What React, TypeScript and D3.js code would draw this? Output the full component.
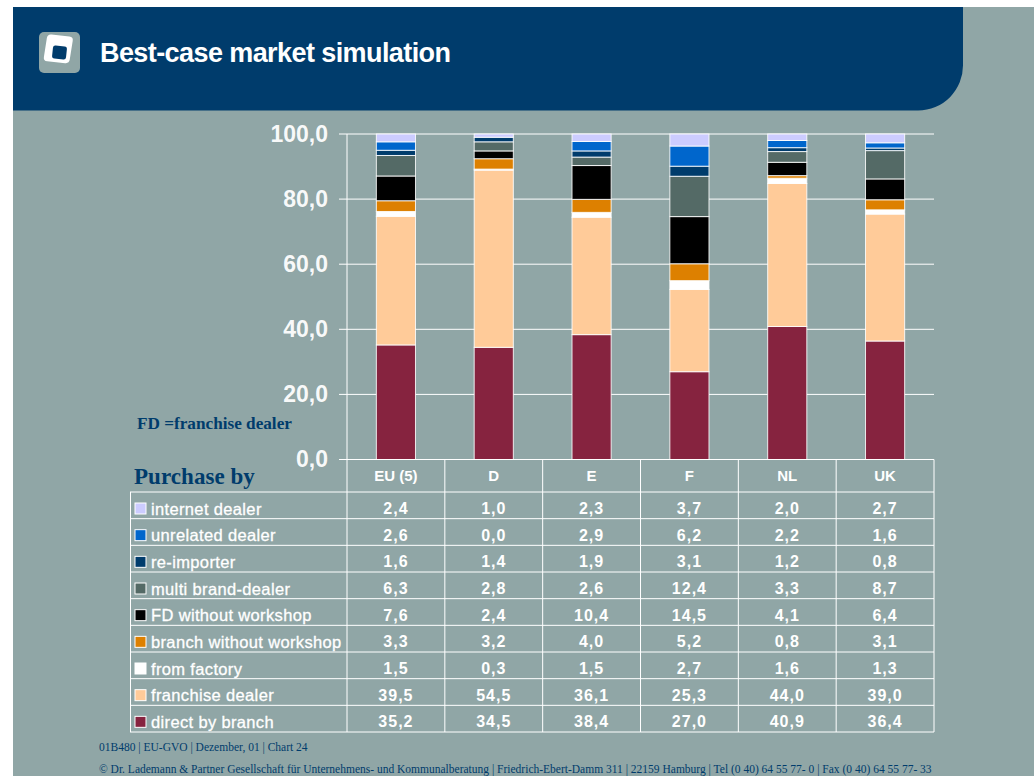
import React from "react";
import * as d3 from "d3";

const categories = ["EU (5)", "D", "E", "F", "NL", "UK"];
const seriesNames = ["direct by branch", "franchise dealer", "from factory", "branch without workshop", "FD without workshop", "multi brand-dealer", "re-importer", "unrelated dealer", "internet dealer"];
const seriesColors = ["#86233F", "#FFCB99", "#FFFFFF", "#DD8000", "#000000", "#546A66", "#003C6C", "#0066CC", "#CCCCFF"];
const directByBranch = [35.2, 34.5, 38.4, 27.0, 40.9, 36.4];
const franchiseDealer = [39.5, 54.5, 36.1, 25.3, 44.0, 39.0];
const fromFactory = [1.5, 0.3, 1.5, 2.7, 1.6, 1.3];
const branchWithoutWorkshop = [3.3, 3.2, 4.0, 5.2, 0.8, 3.1];
const fdWithoutWorkshop = [7.6, 2.4, 10.4, 14.5, 4.1, 6.4];
const multiBrandDealer = [6.3, 2.8, 2.6, 12.4, 3.3, 8.7];
const reImporter = [1.6, 1.4, 1.9, 3.1, 1.2, 0.8];
const unrelatedDealer = [2.6, 0.0, 2.9, 6.2, 2.2, 1.6];
const internetDealer = [2.4, 1.0, 2.3, 3.7, 2.0, 2.7];
const allSeries = [directByBranch, franchiseDealer, fromFactory, branchWithoutWorkshop, fdWithoutWorkshop, multiBrandDealer, reImporter, unrelatedDealer, internetDealer];
const yTicks = [0, 20, 40, 60, 80, 100];

const bg = "#90A6A6";
const navy = "#003C6C";
const sans = "'Liberation Sans', Arial, sans-serif";
const serif = "'Liberation Serif', 'Times New Roman', serif";
const comma = (v: number) => v.toFixed(1).replace(".", ",");

export default function App() {
  const plotL = 347, plotR = 934, plotT = 134, plotB = 459.5;
  const x = d3.scaleBand<string>().domain(categories).range([plotL, plotR]).paddingInner(0.6).paddingOuter(0.3);
  const y = d3.scaleLinear().domain([0, 100]).range([plotB, plotT]);
  const colX = d3.scaleBand<string>().domain(categories).range([plotL, plotR]);
  const rows = d3.range(allSeries.length);
  const rowOrder = [...rows].reverse();
  const rowY = d3.scaleLinear().domain([0, 9]).range([492, 732]);

  const table = categories.map((c, i) => {
    const o: Record<string, number | string> = { c };
    seriesNames.forEach((n, s) => { o[n] = allSeries[s][i]; });
    return o;
  });
  const stacked = d3.stack<any>().keys(seriesNames).offset(d3.stackOffsetExpand)(table);

  return (
    <svg width={1034} height={776} viewBox="0 0 1034 776" style={{ position: "absolute", left: 0, top: 0, display: "block", background: "#fff" }}>
      <rect x={13} y={7} width={1021} height={769} fill={bg} />
      <path d="M13 7H963V65A45 45 0 0 1 918 110.5H13Z" fill={navy} />
      <rect x={39} y={32} width={41} height={41} rx={5} fill={bg} />
      <g transform="rotate(6 59.5 52.5)">
        <rect x={47.5} y={35.5} width={26} height={27} rx={4} fill="#fff" transform="skewX(-3)" />
        <rect x={52.5} y={46} width={14} height={13} rx={2.5} fill={navy} />
      </g>
      <text x={100} y={62} fontFamily={sans} fontWeight={700} fontSize={27} fill="#fff" textLength={351} lengthAdjust="spacing">Best-case market simulation</text>

      {yTicks.map((t) => (
        <g key={t}>
          <line x1={339} x2={plotR} y1={y(t)} y2={y(t)} stroke="#fff" strokeWidth={1} />
          <text x={328} y={y(t) + 7.5} textAnchor="end" fontFamily={sans} fontWeight={700} fontSize={23} fill="#fff" fillOpacity={0.95}>{comma(t)}</text>
        </g>
      ))}
      <line x1={plotL} x2={plotL} y1={plotT} y2={plotB} stroke="#fff" strokeWidth={1} />

      {stacked.map((layer, s) => (
        <g key={layer.key}>
          {layer.map((d, i) => {
            const vals = [d[0] * 100, d[1] * 100];
            if (allSeries[s][i] === 0) return null;
            return (
              <rect key={i} x={x(categories[i])} width={x.bandwidth()} y={y(vals[1])} height={Math.max(0.5, y(vals[0]) - y(vals[1]))}
                fill={seriesColors[s]} stroke="#fff" strokeOpacity={0.85} strokeWidth={1} />
            );
          })}
        </g>
      ))}

      <text x={137} y={429} fontFamily={serif} fontWeight={700} fontSize={17.2} fill={navy}>FD =franchise dealer</text>
      <text x={134} y={484} fontFamily={serif} fontWeight={700} fontSize={23} letterSpacing={0.05} fill={navy}>Purchase by</text>

      <g stroke="#fff" strokeWidth={1} fill="none">
        <line x1={plotL} x2={plotR} y1={plotB} y2={plotB} />
        <line x1={130} x2={plotR} y1={rowY(0)} y2={rowY(0)} />
        {rows.map((r) => (
          <line key={r} x1={130} x2={plotR} y1={rowY(r + 1)} y2={rowY(r + 1)} />
        ))}
        <line x1={130.5} x2={130.5} y1={rowY(0)} y2={rowY(9)} />
        {categories.map((c) => (
          <line key={c} x1={colX(c)! + colX.bandwidth()} x2={colX(c)! + colX.bandwidth()} y1={plotB} y2={rowY(9)} />
        ))}
        <line x1={plotL} x2={plotL} y1={plotB} y2={rowY(9)} />
      </g>

      {categories.map((c) => (
        <text key={c} x={colX(c)! + colX.bandwidth() / 2} y={481} textAnchor="middle" fontFamily={sans} fontWeight={700} fontSize={15} fill="#fff">{c}</text>
      ))}

      {rowOrder.map((s, idx) => (
        <g key={s}>
          <rect x={135} y={rowY(idx) + 11} width={11} height={11} fill={seriesColors[s]} stroke="#fff" strokeWidth={1} />
          <text x={151} y={rowY(idx) + 22.5} fontFamily={sans} fontWeight={400} fontSize={16.5} letterSpacing={0.35} fill="#fff" stroke="#fff" strokeWidth={0.3}>{seriesNames[s]}</text>
          {categories.map((c, i) => (
            <text key={c} x={colX(c)! + colX.bandwidth() / 2} y={rowY(idx) + 22} textAnchor="middle" fontFamily={sans} fontWeight={700} fontSize={16} letterSpacing={1} fill="#fff">{comma(allSeries[s][i])}</text>
          ))}
        </g>
      ))}

      <text x={99} y={751} fontFamily={serif} fontSize={11.5} fill={navy}>01B480 | EU-GVO | Dezember, 01 | Chart 24</text>
      <text x={99} y={773} fontFamily={serif} fontSize={11.5} fill={navy}>© Dr. Lademann &amp; Partner Gesellschaft für Unternehmens- und Kommunalberatung | Friedrich-Ebert-Damm 311 | 22159 Hamburg | Tel (0 40) 64 55 77- 0 | Fax (0 40) 64 55 77- 33</text>
    </svg>
  );
}
